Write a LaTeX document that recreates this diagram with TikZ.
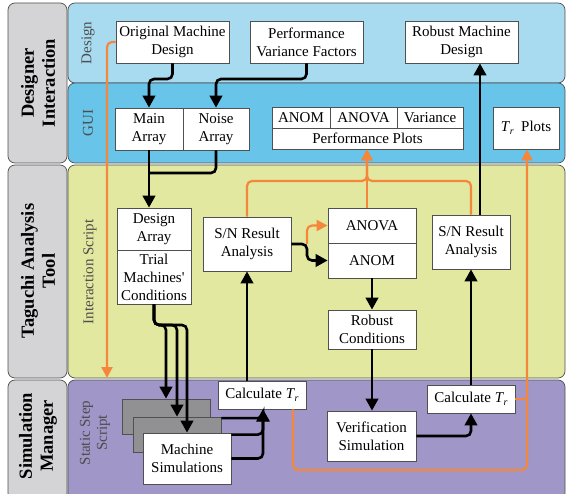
\documentclass[tikz,border=0pt]{standalone}
\usepackage{fontspec}
\setmainfont{Liberation Serif}
\usetikzlibrary{arrows.meta,calc}
\definecolor{cDes}{RGB}{168,219,240}
\definecolor{cGui}{RGB}{104,196,232}
\definecolor{cYel}{RGB}{226,232,160}
\definecolor{cPur}{RGB}{160,150,200}
\definecolor{cGray}{RGB}{212,212,214}
\definecolor{cOr}{RGB}{245,135,60}
\definecolor{cEdge}{RGB}{80,80,80}
\definecolor{cSim}{RGB}{145,145,148}
\newcommand{\Tsub}{\textit{T}\kern-0.3pt\raisebox{-0.45ex}{\fontsize{10}{10}\selectfont\textit{r}}}
\begin{document}
\begin{tikzpicture}[x=1pt,y=-1pt,
  lane/.style={draw=cEdge,line width=0.7pt,rounded corners=7pt},
  colhead/.style={rotate=90,align=center,font=\bfseries\fontsize{18.5}{21}\selectfont},
  lanehead/.style={rotate=90,align=center,text=black!70,font=\fontsize{15}{17}\selectfont},
  bx/.style 2 args={draw=cEdge,fill=white,line width=0.8pt,inner sep=0pt,align=center,
     font=\fontsize{15}{18}\selectfont,minimum width=#1pt,minimum height=#2pt},
  gbx/.style 2 args={draw=cEdge,fill=cSim,line width=0.8pt,minimum width=#1pt,minimum height=#2pt},
  conn/.style={draw=black,line width=2.6pt,rounded corners=5pt,-{Triangle[length=12pt,width=12.5pt]}},
  connn/.style={draw=black,line width=2.6pt,rounded corners=5pt},
  oconn/.style={draw=cOr,line width=2.2pt,rounded corners=5pt,-{Triangle[length=11pt,width=11pt]}},
  oline/.style={draw=cOr,line width=2.2pt,rounded corners=5pt}]
\useasboundingbox (0,0) rectangle (567,494);

% lanes
\draw[lane,fill=cGray] (8,3) rectangle (67,163);
\draw[lane,fill=cGray] (8,165) rectangle (67,378);
\draw[lane,fill=cGray] (8,380) rectangle (67,500);
\draw[lane,fill=cDes] (68,3) rectangle (565,83);
\draw[lane,fill=cGui] (68,83) rectangle (565,163);
\draw[lane,fill=cYel] (68,165) rectangle (565,378);
\draw[lane,fill=cPur] (68,380) rectangle (565,500);

\node[colhead] (h1) at (38,83) {Designer\\Interaction};
\node[colhead] (h2) at (38,271) {Taguchi Analysis\\Tool};
\node[colhead] (h3) at (38,436) {Simulation\\Manager};
\node[lanehead] (l1) at (88,43) {Design};
\node[lanehead] (l2) at (88,123) {GUI};
\node[lanehead] (l3) at (90,272) {Interaction Script};
\node[lanehead] (l4) at (95,433) {Static Step\\Script};

% boxes
\node[bx={113}{42}] (omd) at (172.5,42) {Original Machine\\Design};
\node[bx={113}{42}] (pvf) at (306.5,42) {Performance\\Variance Factors};
\node[bx={113}{42}] (rmd) at (461.5,42) {Robust Machine\\Design};
\node[bx={68}{42}] (main) at (149,129) {Main\\Array};
\node[bx={66}{42}] (noise) at (216,129) {Noise\\Array};
\node[bx={58}{21}] (pa) at (301,117.5) {ANOM};
\node[bx={67}{21}] (pb) at (363.5,117.5) {ANOVA};
\node[bx={66}{21}] (pc) at (430,117.5) {Variance};
\node[bx={191}{21}] (pp) at (367.5,138.5) {Performance Plots};
\node[bx={66}{42}] (trp) at (526,128) {\Tsub\ \ Plots};
\node[bx={74}{42}] (darr) at (154,229) {Design\\Array};
\node[bx={74}{54}] (trial) at (154,277) {Trial\\Machines\textquotesingle\\Conditions};
\node[bx={88}{54}] (snl) at (247,244) {S/N Result\\Analysis};
\node[bx={88}{35}] (anova) at (372,225.5) {ANOVA};
\node[bx={88}{35}] (anom) at (372,260.5) {ANOM};
\node[bx={78}{54}] (snr) at (471,242) {S/N Result\\Analysis};
\node[bx={88}{39}] (robc) at (372,329.5) {Robust\\Conditions};
\node[bx={88}{28}] (calcl) at (262,395) {Calculate \Tsub};
\node[gbx={88}{35}] (g1) at (166,416.5) {};
\node[gbx={88}{35}] (g2) at (177,434.5) {};
\node[bx={88}{51}] (ms) at (187,458.5) {Machine\\Simulations};
\node[bx={89}{50}] (vs) at (371.5,436) {Verification\\Simulation};
\node[bx={88}{28}] (calcr) at (471,399) {Calculate \Tsub};

% coordinates
\coordinate (j1) at (149,79);
\coordinate (j2) at (216,79);
\coordinate (jn) at (149,173);
\coordinate (b1) at (166,325);
\coordinate (b2) at (177,325);
\coordinate (b3) at (187,325);
\coordinate (jc) at (263,0);
\coordinate (sp) at (307,244);
\coordinate (ot) at (367,181);
\coordinate (kx) at (480,0);
\coordinate (cs) at (293,0);
\coordinate (oc) at (527,470);
\coordinate (od) at (107,378);

% black connectors
\draw[conn] (omd.south) |- (j1) -- (main.north);
\draw[conn] (pvf.south) |- (j2) -- (noise.north);
\draw[connn] (noise.south) |- (jn);
\draw[conn] (main.south) -- (main.south |- darr.north);
\draw[conn] (trial.south) |- (b1) -- (b1 |- g1.north);
\draw[conn] (trial.south) |- (b2) -- (b2 |- g2.north);
\draw[conn] (trial.south) |- (b3) -- (b3 |- ms.north);
\draw[conn] ([yshift=-1.5pt]g2.north east) -| (jc |- calcl.south);
\draw[conn] ([yshift=-2pt]ms.north east) -| (jc |- calcl.south);
\draw[conn] (ms.east) -| (jc |- calcl.south);
\draw[conn] (snl.south |- calcl.north) -- (snl.south);
\draw[conn] (snl.east) -- (sp) |- (anom.west);
\draw[conn] (anom.south) -- (robc.north);
\draw[conn] (robc.south) -- (robc.south |- vs.north);
\draw[conn] (vs.east) -| (calcr.south);
\draw[conn] (calcr.north) -- (snr.south);
\draw[conn] (kx |- snr.north) -- (kx |- rmd.south);

% orange connectors
\draw[oconn] (sp) |- (anova.west);
\draw[oconn] (ot |- anova.north) -- (ot |- pp.south);
\draw[oconn] (snl.north) |- (ot) -- (ot |- pp.south);
\draw[oconn] (snr.north) |- (ot) -- (ot |- pp.south);
\draw[oconn] (cs |- calcl.south) |- (oc) -- (oc |- trp.south);
\draw[oline] (calcr.east) -- (calcr.east -| oc);
\draw[oconn] (omd.west) -| (od);
\end{tikzpicture}
\end{document}
